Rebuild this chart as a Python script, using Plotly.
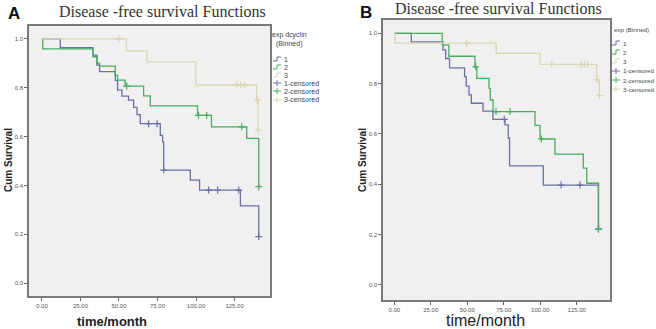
import plotly.graph_objects as go

W, H = 656, 329

# ---------------- data ----------------
# Panel A : exp dcyclin (Binned)
A1_t = [0, 11.9, 33.1, 35.7, 37.4, 47.6, 49.1, 51.9, 56.2, 59.5, 61.7, 63.8, 76.8, 78.3, 79.0, 96.3, 102.3, 128.8, 140.7]
A1_s = [1.0, 0.964, 0.934, 0.893, 0.866, 0.83, 0.79, 0.766, 0.749, 0.72, 0.69, 0.653, 0.605, 0.578, 0.463, 0.422, 0.381, 0.316, 0.19]
A1c_t = [69.2, 74.7, 79.0, 108.2, 114.0, 127.7, 140.7]
A1c_s = [0.653, 0.653, 0.463, 0.381, 0.381, 0.381, 0.19]

A2_t = [0, 0.5, 33.1, 35.7, 37.4, 47.6, 49.1, 54.0, 66.0, 70.3, 101.0, 110.0, 132.9, 140.7]
A2_s = [1.0, 0.959, 0.927, 0.90, 0.889, 0.852, 0.831, 0.807, 0.767, 0.726, 0.687, 0.64, 0.593, 0.395]
A2c_t = [55.0, 101.6, 106.9, 129.7, 140.7]
A2c_s = [0.807, 0.687, 0.687, 0.64, 0.395]

A3_t = [0, 54.8, 68.2, 99.8, 139.4, 140.3]
A3_s = [1.0, 0.951, 0.906, 0.811, 0.75, 0.627]
A3c_t = [49.8, 126.4, 129.0, 131.5, 139.8, 140.3]
A3c_s = [1.0, 0.811, 0.811, 0.811, 0.75, 0.627]

# Panel B : exp (Binned)
B1_t = [0, 11.7, 33.4, 35.2, 37.9, 48.2, 49.3, 51.2, 52.8, 60.8, 67.6, 75.9, 78.1, 79.0, 102.1, 139.8]
B1_s = [1.0, 0.966, 0.934, 0.90, 0.863, 0.828, 0.79, 0.755, 0.722, 0.691, 0.658, 0.636, 0.584, 0.473, 0.397, 0.222]
B1c_t = [75.4, 114.3, 127.3, 139.8]
B1c_s = [0.658, 0.397, 0.397, 0.222]

B2_t = [0, 32.9, 37.4, 55.3, 56.6, 64.9, 65.8, 67.7, 96.4, 99.9, 110.1, 129.5, 131.9, 140.0]
B2_s = [1.0, 0.953, 0.909, 0.867, 0.821, 0.781, 0.735, 0.689, 0.634, 0.58, 0.52, 0.464, 0.404, 0.222]
B2c_t = [55.8, 69.7, 79.3, 100.8, 140.0]
B2c_s = [0.867, 0.689, 0.689, 0.58, 0.222]

B3_t = [0, 0.5, 69.8, 99.9, 138.7, 140.5]
B3_s = [1.0, 0.961, 0.92, 0.877, 0.815, 0.752]
B3c_t = [49.6, 107.9, 128.0, 130.3, 132.6, 139.0, 140.5]
B3c_s = [0.961, 0.877, 0.877, 0.877, 0.877, 0.815, 0.752]

x_ticks = [0, 25, 50, 75, 100, 125]
y_ticks = [0.0, 0.2, 0.4, 0.6, 0.8, 1.0]
legend_labels = ["1", "2", "3", "1-censored", "2-censored", "3-censored"]

COLORS = ["#6970a6", "#49ad5e", "#d9d5ae"]

# ---------------- helpers ----------------
def px(x):
    return x / W

def py(y):
    return 1 - y / H

fig = go.Figure()

panels = [
    (("x", "y"), [(A1_t, A1_s, A1c_t, A1c_s), (A2_t, A2_s, A2c_t, A2c_s), (A3_t, A3_s, A3c_t, A3c_s)]),
    (("x2", "y2"), [(B1_t, B1_s, B1c_t, B1c_s), (B2_t, B2_s, B2c_t, B2c_s), (B3_t, B3_s, B3c_t, B3c_s)]),
]

for (xa, ya), series in panels:
    for i, (t, s, ct, cs) in enumerate(series):
        fig.add_trace(go.Scatter(x=t, y=s, mode="lines", line=dict(shape="hv", color=COLORS[i], width=1.3),
                                 xaxis=xa, yaxis=ya, showlegend=False, hoverinfo="skip"))
    for i, (t, s, ct, cs) in enumerate(series):
        fig.add_trace(go.Scatter(x=ct, y=cs, mode="markers",
                                 marker=dict(symbol="cross-thin", size=5, line=dict(color=COLORS[i], width=1.2)),
                                 xaxis=xa, yaxis=ya, showlegend=False, hoverinfo="skip"))

axis_common = dict(showgrid=False, zeroline=False, showline=True, linecolor="#7a7a7a", linewidth=1.6,
                   mirror=True, ticks="outside", ticklen=3, tickcolor="#666", tickwidth=1,
                   tickfont=dict(family="Arial", size=6, color="#555"))

fig.update_layout(
    width=W, height=H, margin=dict(l=0, r=0, t=0, b=0),
    paper_bgcolor="white", plot_bgcolor="#f0f0f0", showlegend=False,
    xaxis=dict(domain=[px(29), px(270)], range=[-8.4, 148], tickvals=x_ticks, tickformat=".2f", anchor="y", **axis_common),
    yaxis=dict(domain=[py(296), py(26)], range=[-0.053, 1.053], tickvals=y_ticks, tickformat=".1f", anchor="x", **axis_common),
    xaxis2=dict(domain=[px(383), px(610)], range=[-7.7, 147.8], tickvals=x_ticks, tickformat=".2f", anchor="y2", **axis_common),
    yaxis2=dict(domain=[py(300), py(20)], range=[-0.06, 1.053], tickvals=y_ticks, tickformat=".1f", anchor="x2", **axis_common),
)

ann = []
def text(x, y, s, size, family="Arial", color="#333", bold=False, angle=0, xanchor="center"):
    ann.append(dict(x=px(x), y=py(y), xref="paper", yref="paper", text=("<b>%s</b>" % s) if bold else s,
                    showarrow=False, font=dict(family=family, size=size, color=color),
                    xanchor=xanchor, yanchor="middle", textangle=angle))

# titles and panel letters
text(14, 14, "A", 17, bold=True, color="#111")
text(162, 11, "Disease -free survival Functions", 16, family="Liberation Serif", color="#333")
text(366, 13, "B", 17, bold=True, color="#111")
text(498, 8, "Disease -free survival Functions", 16, family="Liberation Serif", color="#333")

# axis titles
text(8, 160, "Cum Survival", 10, bold=True, angle=-90, color="#222")
text(362, 160, "Cum Survival", 10, bold=True, angle=-90, color="#222")
text(112, 321, "time/month", 13, bold=True, color="#222")
text(485, 320, "time/month", 16, color="#222")

# legends (compact, drawn as text + small symbols)
shapes = []
def legend(x0, title_lines, title_y, ys, xanchor_title, fs):
    for j, (tl, ty) in enumerate(zip(title_lines, title_y)):
        if xanchor_title == "center":
            text(x0 + 16, ty, tl, fs, color="#444")
        else:
            text(x0, ty, tl, fs, color="#444", xanchor="left")
    for k, lab in enumerate(legend_labels):
        yy = ys[k]
        c = COLORS[k % 3]
        if k < 3:
            path = "M %f %f L %f %f L %f %f L %f %f" % (
                px(x0), py(yy + 2), px(x0 + 4), py(yy + 2), px(x0 + 4), py(yy - 2), px(x0 + 8), py(yy - 2))
            shapes.append(dict(type="path", path=path, xref="paper", yref="paper",
                               line=dict(color=c, width=1)))
        else:
            shapes.append(dict(type="line", x0=px(x0), x1=px(x0 + 8), y0=py(yy), y1=py(yy), xref="paper",
                               yref="paper", line=dict(color=c, width=1)))
            shapes.append(dict(type="line", x0=px(x0 + 4), x1=px(x0 + 4), y0=py(yy - 3), y1=py(yy + 3),
                               xref="paper", yref="paper", line=dict(color=c, width=1)))
        text(x0 + 9, yy, lab, fs, color="#444", xanchor="left")

legend(273, ["exp dcyclin", "(Binned)"], [35, 44], [59, 67, 75, 83, 91, 100], "center", 7)
legend(612, ["exp (Binned)"], [30], [43, 52, 61, 71, 80, 89], "left", 6.2)

fig.update_layout(annotations=ann, shapes=shapes)
fig.write_html("out.html", config={"displayModeBar": False},
               post_script="document.body.style.margin='0';document.body.style.overflow='hidden';")
